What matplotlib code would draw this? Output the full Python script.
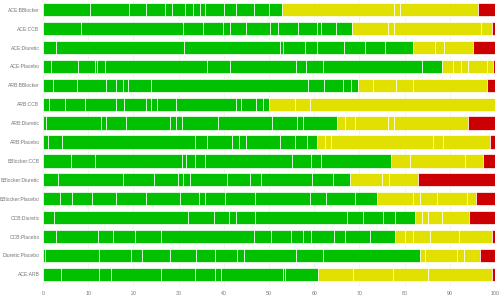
import matplotlib
matplotlib.use("Agg")
import matplotlib.pyplot as plt

labels = [
    "ACE:BBlocker", "ACE:CCB", "ACE:Diuretic", "ACE:Placebo", "ARB:BBlocker",
    "ARB:CCB", "ARB:Diuretic", "ARB:Placebo", "BBlocker:CCB", "BBlocker:Diuretic",
    "BBlocker:Placebo", "CCB:Diuretic", "CCB:Placebo", "Diuretic:Placebo", "ACE:ARB",
]

# segment widths (percent) per row
green_segs = [
    [10.3, 8.7, 3.7, 4.4, 1.5, 2.8, 1.7, 1.7, 1.0, 4.3, 2.6, 4.0, 3.3, 2.9],
    [8.5, 22.5, 4.4, 4.5, 1.4, 3.6, 5.3, 1.9, 4.4, 4.2, 0.9, 3.3, 3.5],
    [2.8, 28.3, 21.4, 0.6, 4.8, 2.8, 5.9, 4.6, 4.4, 6.2],
    [1.8, 5.9, 3.7, 0.6, 1.7, 22.5, 5.1, 14.6, 2.3, 3.8, 21.8, 4.4],
    [2.2, 5.4, 6.4, 2.1, 1.5, 1.2, 5.2, 34.7, 3.5, 4.2, 1.7, 1.6],
    [1.3, 3.5, 4.6, 6.8, 1.7, 4.8, 1.1, 1.5, 4.1, 13.3, 1.0, 3.4, 1.5, 1.4],
    [0.6, 12.3, 1.1, 4.3, 9.7, 1.5, 1.3, 7.9, 11.9, 5.5, 1.5, 7.5],
    [1.1, 3.0, 29.5, 2.7, 5.6, 1.5, 1.5, 7.5, 3.3, 2.6, 2.4],
    [6.1, 5.3, 19.4, 0.9, 1.9, 2.3, 19.1, 4.2, 2.4, 15.3],
    [3.3, 14.3, 6.9, 5.4, 1.1, 1.6, 8.0, 5.2, 2.5, 11.3, 4.5, 3.9],
    [3.8, 2.7, 4.4, 5.2, 6.6, 7.6, 4.2, 1.3, 4.4, 6.7, 12.1, 3.7, 6.3, 4.8],
    [2.4, 29.7, 5.7, 3.4, 1.5, 4.2, 20.4, 3.4, 4.6, 2.6, 4.5],
    [2.8, 9.4, 3.2, 4.9, 5.9, 20.4, 3.8, 4.4, 2.8, 1.8, 5.0, 2.4, 5.5, 5.6],
    [0.4, 11.9, 7.1, 2.4, 6.2, 5.9, 4.1, 5.0, 1.5, 11.4, 6.1, 21.5],
    [3.9, 8.4, 2.8, 11.1, 7.4, 4.4, 1.3, 13.8, 0.4, 7.4],
]
yellow_segs = [
    [24.8, 1.3, 17.2],
    [8.0, 1.2, 19.2, 2.6],
    [4.9, 2.1, 6.4],
    [2.6, 1.6, 1.7, 4.1, 1.4],
    [3.4, 5.1, 3.6, 16.4],
    [5.7, 3.3, 41.0],
    [1.7, 2.2, 7.4, 1.2, 16.5],
    [1.7, 1.4, 22.5, 2.1, 10.6],
    [4.3, 12.2, 3.9],
    [6.9, 1.7, 6.3],
    [8.1, 1.5, 3.8, 6.5, 2.2],
    [1.4, 1.3, 3.1, 6.1],
    [2.2, 1.7, 3.8, 6.5, 7.3],
    [1.0, 7.0, 1.6, 3.6],
    [7.7, 8.9, 7.7, 14.2],
]
red_segs = [
    [3.8], [0.6], [4.8], [0.4], [1.8], [], [5.9], [1.0],
    [2.7], [17.1], [4.1], [5.7], [0.6], [3.3], [0.6],
]

GREEN = "#00c000"
YELLOW = "#e2e000"
RED = "#cc0000"

fig = plt.figure(figsize=(5.0, 3.02), dpi=100)
ax = fig.add_axes([0.086, 1 - 287 / 302, 0.904, 286 / 302])

for i, lab in enumerate(labels):
    left = 0.0
    for segs, color in ((green_segs[i], GREEN), (yellow_segs[i], YELLOW), (red_segs[i], RED)):
        for w in segs:
            ax.barh(i, w, left=left, height=0.7, color=color,
                    edgecolor="white", linewidth=0.5, zorder=2)
            left += w

ax.set_xlim(0, 100)
ax.set_ylim(14.67, -0.46)
ax.set_yticks(range(len(labels)))
ax.set_yticklabels(labels)
ax.set_xticks(range(0, 101, 10))
ax.tick_params(axis="both", length=0, labelcolor="#777777")
ax.tick_params(axis="y", pad=2.5, labelsize=3.6)
ax.tick_params(axis="x", pad=3, labelsize=3.8)
for lbl in ax.get_yticklabels() + ax.get_xticklabels():
    lbl.set_fontfamily("Liberation Sans")
ax.grid(axis="x", color="#eeeeee", linewidth=0.5, zorder=0)
for s in ax.spines.values():
    s.set_visible(False)

fig.savefig("out.png", dpi=100)
